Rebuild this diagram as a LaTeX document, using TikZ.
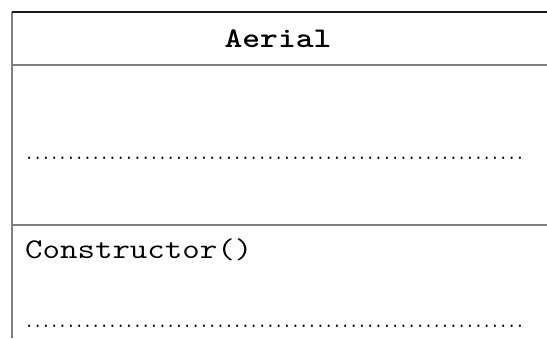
\documentclass[tikz,border=0pt]{standalone}
\usepackage{graphicx}
\usetikzlibrary{positioning}
\definecolor{rulegrey}{HTML}{808080}
\definecolor{ruledark}{HTML}{1A1A1A}
\newcommand{\fillrow}{\scalebox{0.88}[1]{\foreach \k in {1,...,60}{.}}}
\newcommand{\wide}[1]{\scalebox{1.19}[1]{#1}}

\begin{document}
\begin{tikzpicture}[x=1pt, y=-1pt, font=\ttfamily]
    \tikzstyle{rule} = [draw=rulegrey, line width=1.3pt]
    \tikzstyle{heading} = [font=\ttfamily\bfseries\fontsize{28.5}{34}\selectfont, inner sep=0pt, anchor=base]
    \tikzstyle{member} = [font=\ttfamily\fontsize{28.5}{34}\selectfont, inner sep=0pt, anchor=base west]
    \tikzstyle{blank} = [font=\ttfamily\bfseries\fontsize{18}{20}\selectfont, inner sep=0pt, anchor=base west]

    \useasboundingbox (0,0) rectangle (547,338);

    % class box corners and compartment rules
    \coordinate (tl) at (12,12);
    \coordinate (tr) at (547,12);
    \coordinate (bl) at (12,338);
    \coordinate (h1l) at (12,65);
    \coordinate (h1r) at (547,65);
    \coordinate (h2l) at (12,225);
    \coordinate (h2r) at (547,225);

    \draw [rule] (tl) -- (bl);
    \draw [rule] (h1l) -- (h1r);
    \draw [rule] (h2l) -- (h2r);
    \draw [ruledark, line width=1.2pt] (tl) -- (tr);

    % compartments
    \node (name) [heading] at (278,47) {\wide{Aerial}};
    \node (attr) [blank] at (25,159.5) {\fillrow};
    \node (ctor) [member] at (25,258) {\wide{Constructor()}};
    \node (meth) [blank] at (25,327.5) {\fillrow};
\end{tikzpicture}
\end{document}
